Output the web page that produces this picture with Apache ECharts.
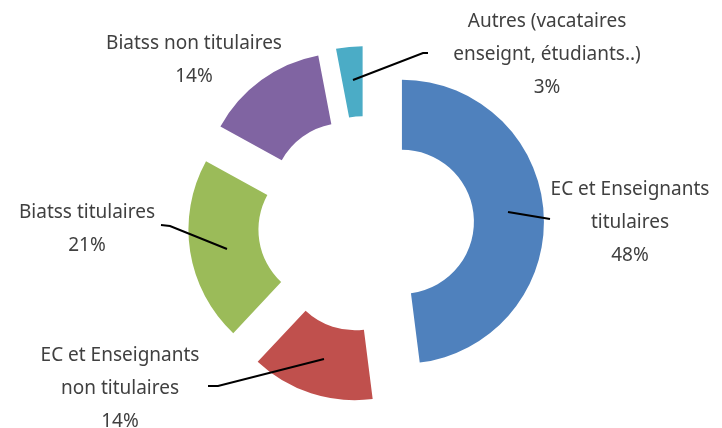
<!DOCTYPE html>
<html>
<head>
<meta charset="utf-8">
<script src="https://cdn.jsdelivr.net/npm/echarts@6/dist/echarts.min.js"></script>
<style>
  html, body { margin: 0; padding: 0; background: #fff; }
  #chart { width: 722px; height: 428px; }
</style>
</head>
<body>
<div id="chart"></div>
<script>
// slices, clockwise from 12 o'clock
const categories = [
  'EC et Enseignants\ntitulaires',
  'EC et Enseignants\nnon titulaires',
  'Biatss titulaires',
  'Biatss non titulaires',
  'Autres (vacataires\nenseignt, étudiants..)'
];
const shares = [48, 14, 21, 14, 3];
const colors = ['#4f81bd', '#c0504d', '#9bbb59', '#8064a2', '#4bacc6'];

// where each label sits and how its leader line runs (pixels)
const labelPos = [
  { x: 630, y: 223, line: [[508, 212], [544, 218], [550, 219]] },
  { x: 120, y: 389, line: [[324, 359], [218, 386], [208, 386]] },
  { x: 87, y: 229, line: [[227, 249], [170, 226], [161, 225]] },
  { x: 194, y: 60, line: null },
  { x: 547, y: 55, line: [[353, 80], [423, 53], [428, 53]] }
];

const chart = echarts.init(document.getElementById('chart'));

const pieBase = {
  type: 'pie',
  center: [366, 224],
  radius: [72, 142],
  startAngle: 90,
  clockwise: true,
  emphasis: { disabled: true }
};

const option = {
  backgroundColor: '#fff',
  animation: false,
  series: [
    // exploded slices
    Object.assign({}, pieBase, {
      selectedMode: 'multiple',
      selectedOffset: 36,
      silent: true,
      label: { show: false },
      labelLine: { show: false },
      data: categories.map((name, i) => ({
        name: name,
        value: shares[i],
        selected: true,
        itemStyle: { color: colors[i] }
      }))
    }),
    // same data, invisible, carrying the labels and leader lines
    Object.assign({}, pieBase, {
      z: 3,
      silent: true,
      itemStyle: { color: 'rgba(0,0,0,0)' },
      label: {
        show: true,
        position: 'outside',
        formatter: '{b}\n{c}%',
        color: '#404040',
        fontSize: 19,
        lineHeight: 33,
        fontFamily: 'Noto Sans',
        align: 'center',
        overflow: 'none',
        width: 260
      },
      labelLine: {
        show: true,
        lineStyle: { color: '#000', width: 2 }
      },
      labelLayout: function (params) {
        const p = labelPos[params.dataIndex];
        const out = { x: p.x, y: p.y, align: 'center', verticalAlign: 'middle' };
        if (p.line) out.labelLinePoints = p.line;
        return out;
      },
      data: categories.map((name, i) => ({
        name: name,
        value: shares[i],
        labelLine: { show: labelPos[i].line !== null }
      }))
    })
  ]
};

chart.setOption(option);
</script>
</body>
</html>
